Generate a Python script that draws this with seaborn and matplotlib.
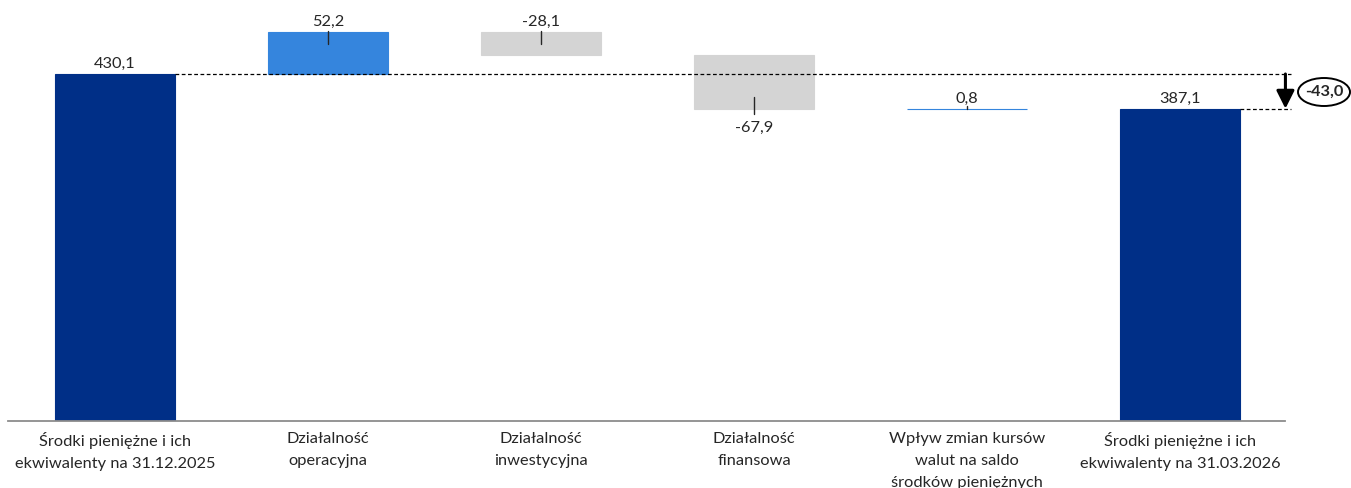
import matplotlib
matplotlib.use("Agg")
import matplotlib.pyplot as plt
import seaborn as sns
import pandas as pd
import numpy as np
from matplotlib.patches import Ellipse

# Cash-flow bridge (mln zł)
categories = [
    "Środki pieniężne i ich\nekwiwalenty na 31.12.2025",
    "Działalność\noperacyjna",
    "Działalność\ninwestycyjna",
    "Działalność\nfinansowa",
    "Wpływ zmian kursów\nwalut na saldo\nśrodków pieniężnych",
    "Środki pieniężne i ich\nekwiwalenty na 31.03.2026",
]
opening = 430.1
changes = [52.2, -28.1, -67.9, 0.8]
closing = 387.1
value_labels = ["430,1", "52,2", "-28,1", "-67,9", "0,8", "387,1"]
delta_label = "-43,0"

NAVY = "#002F87"
BLUE = "#3585DD"
GREY = "#D4D4D4"

# Floating bar geometry
bottoms, heights, colors = [0.0], [opening], [NAVY]
level = opening
for c in changes:
    bottoms.append(level if c >= 0 else level + c)
    heights.append(abs(c))
    colors.append(BLUE if c > 0 else GREY)
    level += c
bottoms.append(0.0)
heights.append(closing)
colors.append(NAVY)

df = pd.DataFrame({"cat": categories, "height": heights, "bottom": bottoms})

sns.set_theme(style="white")
plt.rcParams["font.family"] = ["Lato", "DejaVu Sans"]

fig = plt.figure(figsize=(13.51, 4.88), dpi=100)
ax = fig.add_axes([8 / 1351, 1 - 421 / 488, (1285 - 8) / 1351, 421 / 488])

BAR_W = 0.565
sns.barplot(data=df, x="cat", y="height", bottom=df["bottom"].to_numpy(),
            color=NAVY, width=BAR_W, saturation=1, ax=ax, zorder=2)
for patch, col in zip(ax.patches, colors):
    patch.set_facecolor(col)
    patch.set_edgecolor(col)
    patch.set_linewidth(0.8)

ax.set_xlim(-0.502, 5.493)
ax.set_ylim(0, 521.8)
ax.set_xlabel("")
ax.set_ylabel("")
ax.set_yticks([])
for s in ["top", "right", "left"]:
    ax.spines[s].set_visible(False)
ax.spines["bottom"].set_color("#8C8C8C")
ax.spines["bottom"].set_linewidth(1.3)
ax.tick_params(axis="x", length=0, pad=8, labelsize=11.8, labelcolor="#262626")
for t in ax.get_xticklabels():
    t.set_linespacing(1.72)

half = BAR_W / 2
txt_kw = dict(ha="center", fontsize=11.8, color="#262626")

# value labels and leader ticks
tops = [b + h for b, h in zip(bottoms, heights)]
ax.text(0, tops[0] + 4, value_labels[0], va="bottom", **txt_kw)
ax.text(5, tops[5] + 4, value_labels[5], va="bottom", **txt_kw)
for i, c in enumerate(changes, start=1):
    if c < -50:
        ax.plot([i, i], [bottoms[i] - 6, bottoms[i] + 15], color="#262626", lw=1, zorder=3)
        ax.text(i, bottoms[i] - 14, value_labels[i], va="top", **txt_kw)
    elif abs(c) < 2:
        ax.plot([i, i], [tops[i] - 0.5, tops[i] + 3.5], color="#262626", lw=1, zorder=3)
        ax.text(i, tops[i] + 4, value_labels[i], va="bottom", **txt_kw)
    else:
        ax.plot([i, i], [tops[i] - 15, tops[i] + 1], color="#262626", lw=1, zorder=3)
        ax.text(i, tops[i] + 4, value_labels[i], va="bottom", **txt_kw)

# reference dashed lines
ax.plot([0 + half, 5.52], [opening, opening], ls=(0, (3, 2)), color="black", lw=0.9,
        zorder=4, clip_on=False)
ax.plot([5 + half, 5.52], [closing, closing], ls=(0, (3, 2)), color="black", lw=0.9,
        zorder=4, clip_on=False)

# total change arrow and badge
ax.annotate("", xy=(5.495, closing), xytext=(5.495, opening),
            arrowprops=dict(arrowstyle="-|>,head_length=0.9,head_width=0.45",
                            color="black", lw=2.2, shrinkA=0, shrinkB=0),
            annotation_clip=False)
fig.patches.append(Ellipse((1324 / 1351, 1 - 92 / 488), 52 / 1351, 28 / 488,
                           transform=fig.transFigure, fc="white", ec="black",
                           lw=1.4, zorder=5))
fig.text(1324 / 1351, 1 - 92 / 488, delta_label, ha="center", va="center",
         fontsize=11.8, fontweight="bold", color="#262626", zorder=6)

fig.savefig("out.png", dpi=100)
